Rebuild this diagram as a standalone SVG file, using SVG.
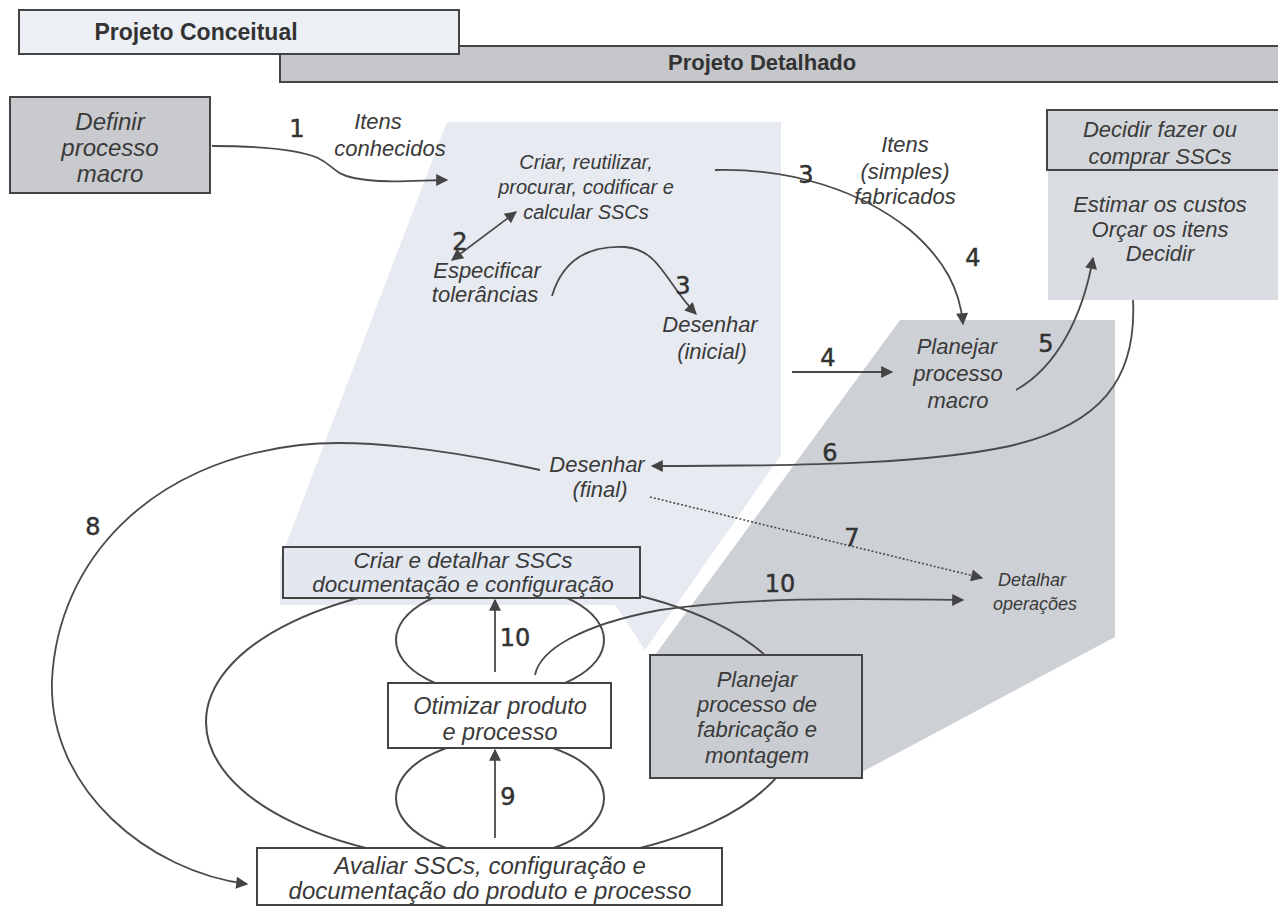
<svg xmlns="http://www.w3.org/2000/svg" width="1278" height="912" viewBox="0 0 1278 912">
  <style>
    .lbl { font-family: "Liberation Sans", Arial, sans-serif; font-style: italic; font-size: 22px; fill: #3a3a3a; text-anchor: middle; }
    .sm { font-size: 18px; }
    .lg { font-size: 24px; }
    .md { font-size: 20px; }
    .num { font-family: "DejaVu Sans", Verdana, sans-serif; font-size: 24px; fill: #333; stroke: #333; stroke-width: 0.5; text-anchor: middle; }
    .hdr { font-family: "Liberation Sans", Arial, sans-serif; font-weight: bold; font-size: 23px; fill: #333; }
    .box { stroke: #444; stroke-width: 2; }
    .wire { fill: none; stroke: #4a4a4a; stroke-width: 1.8; }
    .arrow { marker-end: url(#ah); }
    .dot { stroke-dasharray: 2 2; stroke-width: 1.6; }
    .ring { fill: none; stroke: #4a4a4a; stroke-width: 2; }
  </style>
  <defs>
    <marker id="ah" viewBox="0 0 10 10" refX="9" refY="5" markerWidth="16" markerHeight="12" markerUnits="userSpaceOnUse" orient="auto-start-reverse">
      <path d="M0,0 L10,5 L0,10 z" fill="#444"/>
    </marker>
  </defs>

  <rect width="1278" height="912" fill="#ffffff"/>

  <!-- shaded backdrop panels -->
  <g id="backdrop">
    <polygon points="447,122 781,122 781,455 645,650 615,605 280,605 280,560" fill="#e7ebf1"/>
    <polygon points="900,320 1115,320 1115,637 862,772 862,655 655,655" fill="#cdd0d5"/>
    <rect x="1048" y="170" width="230" height="130" fill="#d9dce0"/>
  </g>

  <!-- phase headers -->
  <g id="hdr-detalhado">
    <rect x="280" y="46" width="1000" height="36" fill="#c5c7cb" class="box" stroke-width="1.5"/>
    <text class="hdr" x="668" y="70" style="font-size:22px">Projeto Detalhado</text>
  </g>
  <g id="hdr-conceitual">
    <rect x="19" y="10" width="440" height="44" fill="#eceff4" class="box" stroke-width="1.5"/>
    <text class="hdr" x="196" y="40" text-anchor="middle">Projeto Conceitual</text>
  </g>

  <!-- loops around the detail cycle -->
  <g id="cycle">
    <ellipse class="ring" cx="503" cy="722" rx="297" ry="142"/>
    <ellipse class="ring" cx="500" cy="640" rx="104" ry="55"/>
    <ellipse class="ring" cx="500" cy="798" rx="104" ry="58"/>
  </g>

  <!-- connectors -->
  <g id="connectors">
    <path class="wire arrow" d="M212,146 C262,146 300,150 318,158 C334,166 334,174 354,178 C384,184 420,180 447,180"/>
    <path class="wire" d="M452,260 L516,212" marker-start="url(#ah)" marker-end="url(#ah)"/>
    <path class="wire arrow" d="M552,296 C562,262 585,245 625,247 C660,250 665,282 696,314"/>
    <path class="wire arrow" d="M715,170 C790,168 860,190 910,230 C945,260 960,290 963,324"/>
    <path class="wire arrow" d="M792,372 L892,372"/>
    <path class="wire arrow" d="M1016,390 C1055,368 1082,320 1093,258"/>
    <path class="wire arrow" d="M1133,300 C1137,380 1100,425 1010,446 C930,463 820,466 652,466"/>
    <path class="wire dot arrow" d="M650,497 L982,578"/>
    <path class="wire arrow" d="M540,470 C450,450 360,438 300,445 C150,462 58,560 52,680 C48,790 150,872 247,884"/>
    <path class="wire arrow" d="M535,675 C540,650 580,625 660,610 C760,596 870,599 963,600"/>
    <path class="wire arrow" d="M495,672 L495,600"/>
    <path class="wire arrow" d="M495,838 L495,750"/>
  </g>

  <!-- nodes -->
  <g id="definir-processo">
    <rect x="10" y="97" width="200" height="96" fill="#c9cacd" class="box"/>
    <text class="lbl lg" x="110" y="130">Definir</text>
    <text class="lbl lg" x="110" y="156">processo</text>
    <text class="lbl lg" x="110" y="182">macro</text>
  </g>

  <g id="criar-reutilizar">
    <text class="lbl md" x="586" y="169">Criar, reutilizar,</text>
    <text class="lbl md" x="586" y="194">procurar, codificar e</text>
    <text class="lbl md" x="586" y="219">calcular SSCs</text>
  </g>

  <g id="especificar">
    <text class="lbl" x="487" y="278">Especificar</text>
    <text class="lbl" x="485" y="302">tolerâncias</text>
  </g>

  <g id="desenhar-inicial">
    <text class="lbl" x="710" y="332">Desenhar</text>
    <text class="lbl" x="712" y="359">(inicial)</text>
  </g>

  <g id="planejar-macro">
    <text class="lbl" x="957" y="354">Planejar</text>
    <text class="lbl" x="958" y="381">processo</text>
    <text class="lbl" x="958" y="408">macro</text>
  </g>

  <g id="decidir">
    <rect x="1047" y="110" width="240" height="60" fill="#d2d5d9" class="box"/>
    <text class="lbl" x="1160" y="137">Decidir fazer ou</text>
    <text class="lbl" x="1160" y="164">comprar SSCs</text>
  </g>

  <g id="estimar">
    <text class="lbl" x="1160" y="212">Estimar os custos</text>
    <text class="lbl" x="1160" y="237">Orçar os itens</text>
    <text class="lbl" x="1160" y="261">Decidir</text>
  </g>

  <g id="desenhar-final">
    <text class="lbl" x="597" y="472">Desenhar</text>
    <text class="lbl" x="600" y="497">(final)</text>
  </g>

  <g id="detalhar-operacoes">
    <text class="lbl sm" x="1032" y="586">Detalhar</text>
    <text class="lbl sm" x="1035" y="610">operações</text>
  </g>

  <g id="criar-detalhar">
    <rect x="283" y="547" width="357" height="51" fill="#e3e8f0" class="box"/>
    <text class="lbl" x="463" y="568" style="font-size:22.5px">Criar e detalhar SSCs</text>
    <text class="lbl" x="463" y="592" style="font-size:22.5px">documentação e configuração</text>
  </g>

  <g id="otimizar">
    <rect x="388" y="683" width="223" height="65" fill="#ffffff" class="box"/>
    <text class="lbl" x="500" y="714" style="font-size:23.5px">Otimizar produto</text>
    <text class="lbl" x="500" y="740" style="font-size:23.5px">e processo</text>
  </g>

  <g id="planejar-fabricacao">
    <rect x="650" y="655" width="212" height="123" fill="#c9ccd1" class="box"/>
    <text class="lbl" x="757" y="687">Planejar</text>
    <text class="lbl" x="757" y="712">processo de</text>
    <text class="lbl" x="757" y="737">fabricação e</text>
    <text class="lbl" x="757" y="763">montagem</text>
  </g>

  <g id="avaliar">
    <rect x="257" y="848" width="465" height="57" fill="#ffffff" class="box"/>
    <text class="lbl lg" x="490" y="874">Avaliar SSCs, configuração e</text>
    <text class="lbl lg" x="490" y="899">documentação do produto e processo</text>
  </g>

  <!-- connector labels -->
  <g id="labels">
    <text class="num" x="297" y="137">1</text>
    <text class="lbl" x="378" y="129">Itens</text>
    <text class="lbl" x="390" y="156">conhecidos</text>
    <text class="num" x="460" y="250">2</text>
    <text class="num" x="683" y="294">3</text>
    <text class="num" x="806" y="183">3</text>
    <text class="lbl" x="905" y="152">Itens</text>
    <text class="lbl" x="905" y="179">(simples)</text>
    <text class="lbl" x="905" y="204">fabricados</text>
    <text class="num" x="973" y="266">4</text>
    <text class="num" x="828" y="366">4</text>
    <text class="num" x="1046" y="352">5</text>
    <text class="num" x="830" y="461">6</text>
    <text class="num" x="852" y="546">7</text>
    <text class="num" x="93" y="535">8</text>
    <text class="num" x="780" y="592">10</text>
    <text class="num" x="515" y="646">10</text>
    <text class="num" x="508" y="805">9</text>
  </g>
</svg>
